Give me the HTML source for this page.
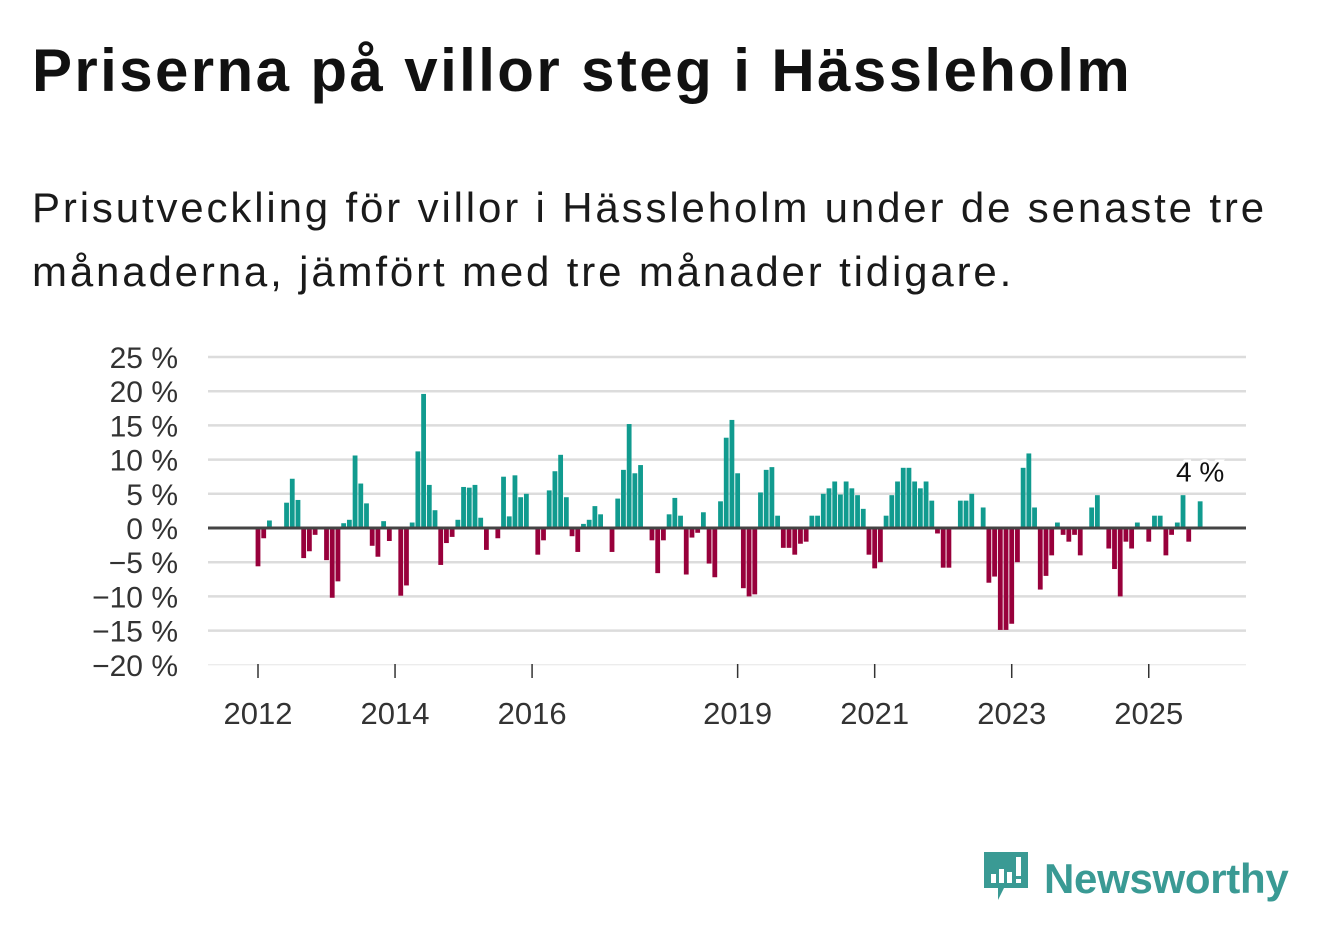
<!DOCTYPE html>
<html><head><meta charset="utf-8"><style>
body{margin:0;width:1322px;height:939px;background:#fff;font-family:"Liberation Sans","DejaVu Sans",sans-serif;overflow:hidden;position:relative;color:#111}
h1{position:absolute;left:32px;top:36px;margin:0;font-size:60px;font-weight:bold;letter-spacing:2.4px}
.sub{position:absolute;left:32px;top:176px;margin:0;font-size:42px;line-height:64px;color:#1a1a1a;width:1285px;letter-spacing:2.85px}
svg{position:absolute;left:0;top:0}
.logo{position:absolute;left:982px;top:850px;display:flex;align-items:center}
.logo span{font-size:42px;font-weight:bold;color:#3a9a94;margin-left:14px;letter-spacing:-0.3px}
</style></head><body>
<h1>Priserna på villor steg i Hässleholm</h1>
<p class="sub">Prisutveckling för villor i Hässleholm under de senaste tre månaderna, jämfört med tre månader tidigare.</p>
<svg id="chart" width="1322" height="939"></svg>
<div class="logo">
<svg width="48" height="58" viewBox="0 0 48 58" style="position:static"><path d="M2 2h44v36H22l-6 12v-12H2z" fill="#3a9a94"/><rect x="9" y="24" width="5" height="9" fill="#fff"/><rect x="17" y="19" width="5" height="14" fill="#fff"/><rect x="25" y="22" width="5" height="11" fill="#fff"/><rect x="34" y="7" width="5" height="19" fill="#fff"/><rect x="34" y="29" width="5" height="4" fill="#fff"/></svg>
<span>Newsworthy</span></div>
<script>
const values=[-5.6,-1.5,1.1,0,0.2,3.7,7.2,4.1,-4.4,-3.4,-1,0,
-4.7,-10.2,-7.8,0.7,1.2,10.6,6.5,3.6,-2.6,-4.2,1.0,-1.9,
0,-9.9,-8.4,0.8,11.2,19.6,6.3,2.6,-5.4,-2.2,-1.3,1.2,
6.0,5.9,6.3,1.5,-3.2,0,-1.5,7.5,1.7,7.7,4.5,5.0,
0,-3.9,-1.8,5.5,8.3,10.7,4.5,-1.2,-3.5,0.6,1.2,3.2,
2.0,0,-3.5,4.3,8.5,15.2,8.0,9.2,0,-1.8,-6.6,-1.8,
2.0,4.4,1.8,-6.8,-1.4,-0.7,2.3,-5.2,-7.2,3.9,13.2,15.8,
8.0,-8.8,-10,-9.7,5.2,8.5,8.9,1.8,-2.9,-2.9,-3.9,-2.3,
-2.0,1.8,1.8,5.0,5.8,6.8,4.9,6.8,5.8,4.8,2.8,-3.9,
-5.9,-5.0,1.8,4.8,6.8,8.8,8.8,6.8,5.8,6.8,4.0,-0.8,
-5.8,-5.8,0,4.0,4.0,5.0,0,3.0,-8.0,-7.1,-14.9,-14.9,
-14,-5.0,8.8,10.9,3.0,-9.0,-7.0,-4.0,0.8,-1.0,-2.0,-1.0,
-4.0,0,3.0,4.8,0,-3.0,-6.0,-10,-2.0,-3.0,0.8,0,
-2.0,1.8,1.8,-4.0,-1.0,0.8,4.8,-2.0,0,3.9];
const yTicks=[25,20,15,10,5,0,-5,-10,-15,-20];
const yearLabels=[2012,2014,2016,2019,2021,2023,2025];
const startYear=2012;
const lastLabel="4 %";
const NS="http://www.w3.org/2000/svg";
const svg=document.getElementById('chart');
const y=v=>528-v*6.84;
const x=i=>258+i*5.71;
function mk(t,a){const e=document.createElementNS(NS,t);for(const k in a)e.setAttribute(k,a[k]);svg.appendChild(e);return e;}
yTicks.forEach(t=>{
  const g=mk('line',{x1:208,x2:1246,y1:y(t),y2:y(t),stroke:t===-20?'#e6e6e6':'#dcdcdc','stroke-width':t===-20?1:2.5});
  
  
  const l=mk('text',{x:178,y:y(t)+11,'text-anchor':'end','font-size':30,fill:'#333','font-family':'Liberation Sans, sans-serif'});
  l.textContent=(t<0?'\u2212'+(-t):t)+' %';
  
  
});
values.forEach((v,i)=>{
  if(v===0)return;
  const r=mk('rect',{x:x(i)-2.4,width:4.8,y:Math.min(y(v),528),height:Math.abs(y(v)-528),fill:v>0?'#119b8f':'#98003b'});
  
  
});
const z=mk('line',{x1:208,x2:1246,y1:528,y2:528,stroke:'#444','stroke-width':3});


yearLabels.forEach(yr=>{
  const xi=x((yr-startYear)*12);
  const t=mk('line',{x1:xi,x2:xi,y1:664,y2:678,stroke:'#333','stroke-width':1.5});
  
  
  const l=mk('text',{x:xi,y:724,'text-anchor':'middle','font-size':31,fill:'#333','font-family':'Liberation Sans, sans-serif'});
  l.textContent=yr;
  
  
});
const li=values.length-1;
const ann=mk('text',{x:x(li),y:y(values[li])-20,'text-anchor':'middle','font-size':28,fill:'#111','font-family':'Liberation Sans, sans-serif',stroke:'#fff','stroke-width':6,'paint-order':'stroke'});
ann.textContent=lastLabel;


</script>
</body></html>
